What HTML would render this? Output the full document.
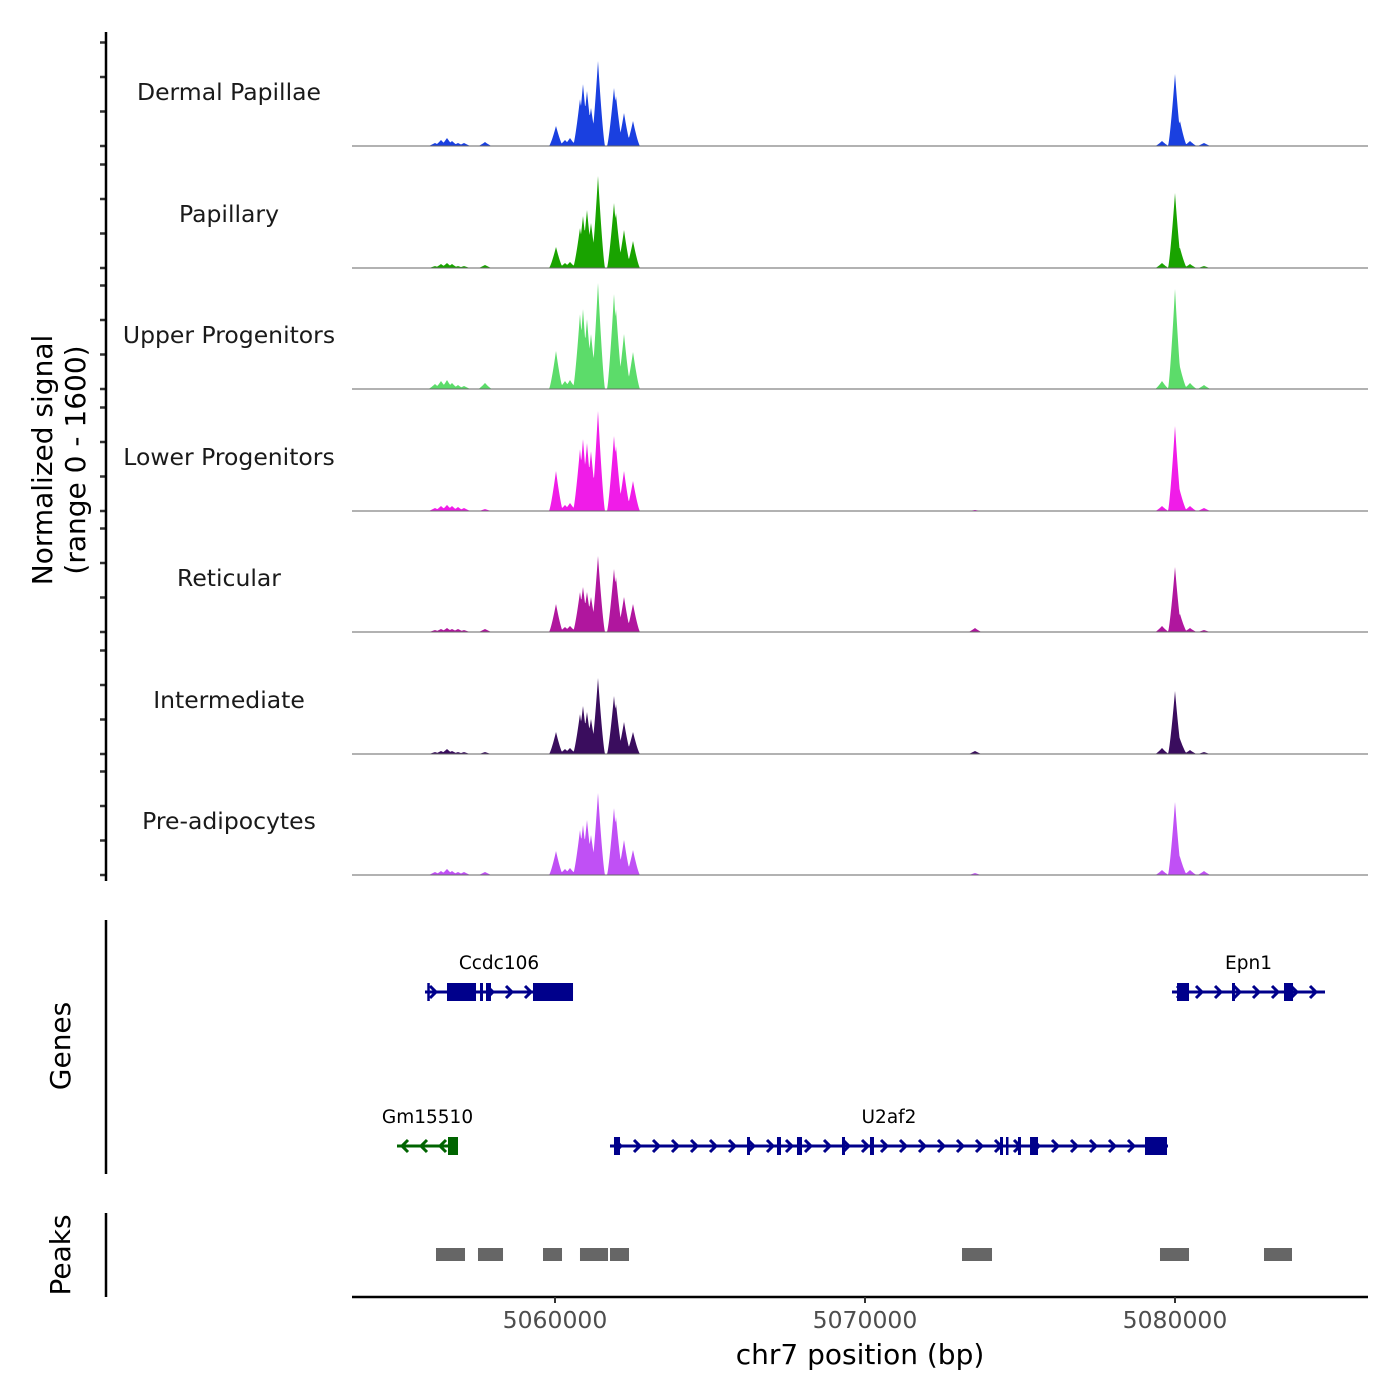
<!DOCTYPE html>
<html><head><meta charset="utf-8"><style>
html,body{margin:0;padding:0;background:#fff}
svg{display:block;font-family:"DejaVu Sans","Liberation Sans",sans-serif}
</style></head><body>
<svg id="chart" width="1400" height="1400" viewBox="0 0 1400 1400" xmlns="http://www.w3.org/2000/svg"></svg>
<script>
// ---- data ----
const trackNames = ["Dermal Papillae","Papillary","Upper Progenitors","Lower Progenitors","Reticular","Intermediate","Pre-adipocytes"];
const trackColors = ["#1a40e0","#19a300","#5cdc6a","#f01ce8","#b0169e","#3a0d5e","#c050f5"];
const spikeOffsets = [-3871,-3677,-3484,-3323,-3129,-2935,-2258,32,323,484,806,903,1032,1161,1387,1903,1968,2226,2516,13548,19581,20000,20161,20484,20935];
const sigDermal = [35,70,93,58,35,35,46,232,70,93,545,719,638,441,986,673,580,383,290,0,58,835,290,58,35];
const sigPapillary = [23,46,58,46,23,23,35,244,58,70,464,603,673,522,1067,754,638,441,313,0,58,870,232,46,23];
const sigUpper = [58,93,104,70,46,35,70,441,93,104,870,928,812,638,1230,1102,928,638,429,0,93,1160,255,70,46];
const sigLower = [35,58,70,58,46,35,23,464,70,93,719,835,789,696,1160,870,754,464,348,12,58,986,232,58,35];
const sigReticular = [23,35,46,35,35,23,35,325,58,70,464,522,464,406,882,731,638,406,325,46,70,754,209,46,23];
const sigIntermediate = [23,35,58,35,23,23,23,255,58,70,464,557,487,406,882,673,580,371,255,35,70,731,174,46,23];
const sigPreadip = [35,46,70,46,35,35,35,278,70,81,522,580,638,464,951,777,673,406,290,23,58,847,209,58,46];
const trackSignals = [sigDermal,sigPapillary,sigUpper,sigLower,sigReticular,sigIntermediate,sigPreadip];
const xTicks = [5060000,5070000,5080000];
const xTickLabels = ["5060000","5070000","5080000"];
const genes = [
 {name:"Ccdc106",row:0,start:5055806,end:5060581,strand:1,color:"#00008b",exons:[[5055880,5055930],[5056516,5057452],[5057581,5057677],[5057774,5057935],[5059290,5060581]]},
 {name:"Epn1",row:0,start:5079903,end:5084839,strand:1,color:"#00008b",exons:[[5080065,5080452],[5081839,5081935],[5083516,5083807]]},
 {name:"Gm15510",row:1,start:5054903,end:5056871,strand:-1,color:"#006400",exons:[[5056548,5056871]]},
 {name:"U2af2",row:1,start:5061774,end:5079774,strand:1,color:"#00008b",exons:[[5061903,5062097],[5066194,5066290],[5067161,5067290],[5067806,5067968],[5069258,5069355],[5070161,5070290],[5074355,5074452],[5074548,5074613],[5074935,5075032],[5075323,5075581],[5079032,5079742]]}
];
const peakStarts = [5056161,5057516,5059613,5060806,5061774,5073129,5079516,5082871];
const peakEnds = [5057097,5058323,5060226,5061710,5062387,5074097,5080452,5083774];

// ---- scales ----
const X0=352,X1=1368;
function xs(bp){return 555+(bp-5060000)*0.031;}
const baselines=[146,268,389,511,632,754,875];
function ys(v){return v*138/1600;}
const NS="http://www.w3.org/2000/svg";
const svg=document.getElementById('chart');
function mk(tag,attrs,parent){const e=document.createElementNS(NS,tag);for(const k in attrs)e.setAttribute(k,attrs[k]);(parent||svg).appendChild(e);return e;}

// ---- tracks ----
const hw=7;
trackNames.forEach((name,i)=>{
  const b=baselines[i];const sig=trackSignals[i];
  const g=mk('g',{});
  
  
  let d='M'+X0+','+b;
  for(let x=X0;x<=X1;x+=0.5){
    let v=0;
    spikeOffsets.forEach((o,k)=>{const px=xs(5060000+o);const t=1-Math.abs(x-px)/hw;if(t>0)v=Math.max(v,ys(sig[k])*Math.pow(t,1.3));});
    d+=' L'+x+','+(b-v).toFixed(2);
  }
  d+=' L'+X1+','+b+' Z';
  const p=mk('path',{d:d,fill:trackColors[i],stroke:'none'},g);
  
  
  const l=mk('line',{x1:X0,x2:X1,y1:b,y2:b,stroke:'#666',"stroke-width":1},g);
  
  
  const t=mk('text',{x:229,y:b-46,"text-anchor":"middle","font-size":23.5,fill:"#1a1a1a"},g);
  t.textContent=name;
  
  
  [0,1,2,3].forEach(k=>{
    const tk=mk('line',{x1:100,x2:106,y1:b-k*34.5,y2:b-k*34.5,stroke:'#333',"stroke-width":2.5});
    
    
  });
});
let ax=mk('line',{x1:106,x2:106,y1:32,y2:881,stroke:'#000',"stroke-width":2.5});


let yt=mk('text',{transform:"translate(52,460) rotate(-90)","text-anchor":"middle","font-size":28,fill:"#000"});
yt.textContent="Normalized signal";


let yt2=mk('text',{transform:"translate(85,460) rotate(-90)","text-anchor":"middle","font-size":28,fill:"#000"});
yt2.textContent="(range 0 - 1600)";



// ---- genes ----
let ga=mk('line',{x1:106,x2:106,y1:920,y2:1174,stroke:'#000',"stroke-width":2.5});


let gt=mk('text',{transform:"translate(70,1046) rotate(-90)","text-anchor":"middle","font-size":28,fill:"#000"});
gt.textContent="Genes";


const rowY=[992,1146];
genes.forEach(gn=>{
  const y=rowY[gn.row];const c=gn.color;
  const g=mk('g',{});
  
  
  const x1=xs(gn.start),x2=xs(gn.end);
  mk('line',{x1:x1,x2:x2,y1:y,y2:y,stroke:c,"stroke-width":3},g);
  for(let x=x1+8;x<x2-3;x+=19){
    const s=gn.strand;
    mk('polyline',{points:(x-3*s)+','+(y-6)+' '+(x+3*s)+','+y+' '+(x-3*s)+','+(y+6),fill:'none',stroke:c,"stroke-width":3},g);
  }
  gn.exons.forEach(e=>{
    const a=xs(e[0]),bb=xs(e[1]);
    mk('rect',{x:a,y:y-9,width:Math.max(2.5,bb-a),height:18,fill:c},g);
  });
  const lab=mk('text',{x:(x1+x2)/2,y:y-23,"text-anchor":"middle","font-size":18.5,fill:"#000"},g);
  lab.textContent=gn.name;
});

// ---- peaks ----
let pa=mk('line',{x1:106,x2:106,y1:1213,y2:1297,stroke:'#000',"stroke-width":2.5});


let pt=mk('text',{transform:"translate(70,1255) rotate(-90)","text-anchor":"middle","font-size":28,fill:"#000"});
pt.textContent="Peaks";


peakStarts.forEach((s,i)=>{
  const r=mk('rect',{x:xs(s),y:1248,width:xs(peakEnds[i])-xs(s),height:13,fill:'#666'});
  
  
});

// ---- x axis ----
let xa=mk('line',{x1:X0,x2:X1,y1:1297,y2:1297,stroke:'#000',"stroke-width":2.5});


xTicks.forEach((v,i)=>{
  const x=xs(v);
  const tk=mk('line',{x1:x,x2:x,y1:1297,y2:1303,stroke:'#333',"stroke-width":2});
  
  
  const t=mk('text',{x:x,y:1328,"text-anchor":"middle","font-size":23.5,fill:"#4d4d4d"});
  t.textContent=xTickLabels[i];
  
  
});
let xt=mk('text',{x:860,y:1364,"text-anchor":"middle","font-size":28,fill:"#000"});
xt.textContent="chr7 position (bp)";


</script>
</body></html>
